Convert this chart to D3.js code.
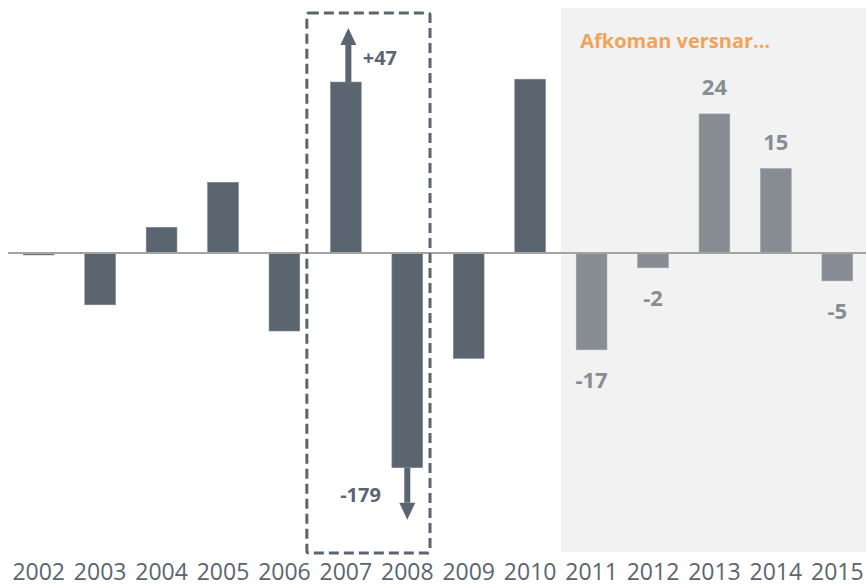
<!DOCTYPE html>
<html><head><meta charset="utf-8">
<script src="https://cdn.jsdelivr.net/npm/d3@7"></script>
<style>body{margin:0;background:#fff}svg{display:block}</style>
</head><body>
<script>
// ---- data ----
const years = ["2002","2003","2004","2005","2006","2007","2008","2009","2010","2011","2012","2013","2014","2015"];
// drawn bar heights (2007 and 2008 are truncated on the chart)
const values = [-0.35, -9.1, 4.5, 12.4, -13.7, 30.0, -37.7, -18.5, 30.5, -17.0, -2.6, 24.4, 14.8, -4.9];
const valueLabels = [null, null, null, null, null, "+47", "-179", null, null, "-17", "-2", "24", "15", "-5"];
const forecastYears = ["2011","2012","2013","2014","2015"];
const truncatedUp = ["2007"];
const truncatedDown = ["2008"];
const annotationText = "Afkoman versnar…";

// ---- layout ----
const W = 866, H = 586;
const dark = "#5b6570", light = "#878d93", orange = "#f0a35a";
const svg = d3.select("body").append("svg").attr("width", W).attr("height", H);

const x = d3.scaleBand().domain(years).range([8, 868]).paddingInner(0.5).paddingOuter(0.25);
const y = d3.scaleLinear().domain([-52.5, 43]).range([552, 8]);
const step = x.step(), bw = x.bandwidth();
const isF = d => forecastYears.includes(d);

// forecast background
svg.append("rect")
  .attr("x", x(forecastYears[0]) - (step - bw) / 2)
  .attr("y", y(43))
  .attr("width", W - (x(forecastYears[0]) - (step - bw) / 2))
  .attr("height", y(-52.5) - y(43))
  .attr("fill", "#f2f2f2");

const data = years.map((d, i) => ({year: d, v: values[i], label: valueLabels[i]}));

// bars
svg.selectAll("rect.bar").data(data).join("rect")
  .attr("class", "bar")
  .attr("x", d => x(d.year))
  .attr("y", d => y(Math.max(0, d.v)))
  .attr("width", bw)
  .attr("height", d => Math.abs(y(d.v) - y(0)))
  .attr("fill", d => isF(d.year) ? light : dark)
  .attr("stroke", d => isF(d.year) ? "#9aa0a5" : "#7a838c")
  .attr("stroke-width", 0.6);

// zero line
svg.append("line")
  .attr("x1", 8).attr("x2", W)
  .attr("y1", y(0)).attr("y2", y(0))
  .attr("stroke", "#a3a3a3").attr("stroke-width", 2);

// dashed highlight box
const bx0 = x(truncatedUp[0]) - step * 0.385;
const bx1 = x(truncatedDown[0]) + bw + step * 0.12;
svg.append("rect")
  .attr("x", bx0).attr("y", 13)
  .attr("width", bx1 - bx0).attr("height", 553 - 13)
  .attr("rx", 2)
  .attr("fill", "none").attr("stroke", dark)
  .attr("stroke-width", 3).attr("stroke-dasharray", "10,5");

// arrows
function arrow(cx, yFrom, yTip) {
  const dir = yTip < yFrom ? -1 : 1;
  const headLen = 17, headHalf = 8, shaftHalf = 3;
  const yBase = yTip - dir * headLen;
  svg.append("rect")
    .attr("x", cx - shaftHalf).attr("width", shaftHalf * 2)
    .attr("y", Math.min(yFrom, yBase)).attr("height", Math.abs(yBase - yFrom))
    .attr("fill", dark);
  svg.append("path")
    .attr("d", `M${cx - headHalf},${yBase} L${cx + headHalf},${yBase} L${cx},${yTip} Z`)
    .attr("fill", dark);
}
data.filter(d => truncatedUp.includes(d.year)).forEach(d => {
  arrow(x(d.year) + bw / 2 + 2.5, y(d.v), y(d.v) - 54);
  svg.append("text").attr("x", x(d.year) + bw + 1.5).attr("y", y(d.v) - 17)
    .attr("font-family", "Open Sans").attr("font-weight", 700).attr("font-size", 20)
    .attr("fill", dark).text(d.label);
});
data.filter(d => truncatedDown.includes(d.year)).forEach(d => {
  arrow(x(d.year) + bw / 2, y(d.v), y(d.v) + 52);
  svg.append("text").attr("x", x(d.year) - 11).attr("y", y(d.v) + 34)
    .attr("text-anchor", "end")
    .attr("font-family", "Open Sans").attr("font-weight", 700).attr("font-size", 20)
    .attr("fill", dark).text(d.label);
});

// forecast value labels
svg.selectAll("text.val").data(data.filter(d => isF(d.year) && d.label)).join("text")
  .attr("class", "val")
  .attr("x", d => x(d.year) + bw / 2)
  .attr("y", d => d.v >= 0 ? y(d.v) - 19 : y(d.v) + 38)
  .attr("text-anchor", "middle")
  .attr("font-family", "Open Sans").attr("font-weight", 700).attr("font-size", 22)
  .attr("fill", light).text(d => d.label);

// annotation
svg.append("text")
  .attr("x", x(forecastYears[0]) + 4).attr("y", 48)
  .attr("font-family", "Open Sans").attr("font-weight", 700).attr("font-size", 20)
  .attr("fill", orange).text(annotationText);

// x axis labels
const xAxis = d3.axisBottom(x).tickSize(0).tickPadding(0);
const gx = svg.append("g").attr("transform", `translate(0,${H})`).call(xAxis);
gx.select(".domain").remove();
gx.selectAll("text")
  .attr("y", -6).attr("dy", null)
  .attr("font-family", "Open Sans").attr("font-size", 23)
  .attr("fill", dark);
</script>
</body></html>
